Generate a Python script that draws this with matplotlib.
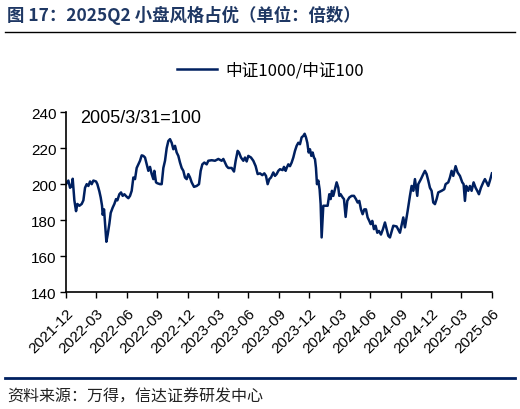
import matplotlib
matplotlib.use("Agg")
from matplotlib import pyplot as plt
import pandas as pd

# 中证1000/中证100 (2005/3/31=100)
dates = [
    "2021-12-01", "2021-12-08", "2021-12-13", "2021-12-18", "2021-12-21", "2021-12-23",
    "2021-12-26", "2021-12-31", "2022-01-04", "2022-01-10", "2022-01-17", "2022-01-22",
    "2022-01-27", "2022-02-01", "2022-02-06", "2022-02-11", "2022-02-16", "2022-02-21",
    "2022-03-01", "2022-03-05", "2022-03-11", "2022-03-15", "2022-03-19", "2022-03-21",
    "2022-03-25", "2022-03-28", "2022-04-01", "2022-04-05", "2022-04-10", "2022-04-14",
    "2022-04-20", "2022-04-25", "2022-04-30", "2022-05-04", "2022-05-10", "2022-05-15",
    "2022-05-20", "2022-05-25", "2022-06-01", "2022-06-06", "2022-06-11", "2022-06-16",
    "2022-06-21", "2022-06-26", "2022-07-01", "2022-07-06", "2022-07-11", "2022-07-16",
    "2022-07-21", "2022-07-26", "2022-07-31", "2022-08-05", "2022-08-10", "2022-08-15",
    "2022-08-20", "2022-08-23", "2022-08-28", "2022-09-01", "2022-09-09", "2022-09-14",
    "2022-09-19", "2022-09-24", "2022-09-29", "2022-10-04", "2022-10-09", "2022-10-14",
    "2022-10-19", "2022-10-24", "2022-10-29", "2022-11-03", "2022-11-08", "2022-11-13",
    "2022-11-18", "2022-11-23", "2022-11-28", "2022-12-03", "2022-12-08", "2022-12-13",
    "2022-12-20", "2022-12-28", "2023-01-04", "2023-01-09", "2023-01-14", "2023-01-20",
    "2023-01-27", "2023-02-01", "2023-02-11", "2023-02-21", "2023-03-03", "2023-03-13",
    "2023-03-18", "2023-03-23", "2023-03-28", "2023-04-02", "2023-04-12", "2023-04-19",
    "2023-04-24", "2023-04-30", "2023-05-04", "2023-05-10", "2023-05-17", "2023-05-22",
    "2023-05-27", "2023-06-01", "2023-06-09", "2023-06-16", "2023-06-23", "2023-06-29",
    "2023-07-06", "2023-07-13", "2023-07-19", "2023-07-24", "2023-07-29", "2023-08-03",
    "2023-08-08", "2023-08-15", "2023-08-20", "2023-08-25", "2023-08-30", "2023-09-04",
    "2023-09-12", "2023-09-16", "2023-09-21", "2023-09-24", "2023-09-29", "2023-10-04",
    "2023-10-09", "2023-10-14", "2023-10-19", "2023-10-24", "2023-10-29", "2023-11-03",
    "2023-11-08", "2023-11-13", "2023-11-17", "2023-11-21", "2023-11-25", "2023-11-29",
    "2023-12-03", "2023-12-07", "2023-12-11", "2023-12-15", "2023-12-18", "2023-12-21",
    "2023-12-24", "2023-12-28", "2024-01-01", "2024-01-04", "2024-01-07", "2024-01-10",
    "2024-01-12", "2024-01-20", "2024-01-25", "2024-01-30", "2024-02-03", "2024-02-07",
    "2024-02-11", "2024-02-16", "2024-02-21", "2024-02-26", "2024-02-29", "2024-03-04",
    "2024-03-10", "2024-03-14", "2024-03-19", "2024-03-24", "2024-03-30", "2024-04-06",
    "2024-04-13", "2024-04-19", "2024-04-24", "2024-04-29", "2024-05-04", "2024-05-09",
    "2024-05-14", "2024-05-19", "2024-05-24", "2024-05-29", "2024-06-02", "2024-06-07",
    "2024-06-12", "2024-06-17", "2024-06-22", "2024-06-27", "2024-07-03", "2024-07-09",
    "2024-07-15", "2024-07-25", "2024-07-30", "2024-08-09", "2024-08-19", "2024-08-29",
    "2024-09-08", "2024-09-13", "2024-09-21", "2024-09-28", "2024-10-03", "2024-10-08",
    "2024-10-13", "2024-10-20", "2024-10-23", "2024-10-31", "2024-11-07", "2024-11-12",
    "2024-11-17", "2024-11-22", "2024-11-27", "2024-12-02", "2024-12-07", "2024-12-12",
    "2024-12-17", "2024-12-22", "2025-01-01", "2025-01-09", "2025-01-13", "2025-01-21",
    "2025-01-26", "2025-01-31", "2025-02-05", "2025-02-12", "2025-02-18", "2025-02-25",
    "2025-03-04", "2025-03-08", "2025-03-12", "2025-03-16", "2025-03-22", "2025-03-27",
    "2025-04-01", "2025-04-07", "2025-04-13", "2025-04-18", "2025-04-23", "2025-04-29",
    "2025-05-06", "2025-05-11", "2025-05-16", "2025-05-21", "2025-05-26", "2025-06-01",
]
ratio = [
    200, 202, 198, 199, 203, 198,
    191, 185, 189, 188, 189, 191,
    198, 200, 199, 201.5, 200, 202,
    201.5, 200, 196, 192.6, 188, 183,
    186, 178, 168, 172, 178, 184,
    187, 189, 191.7, 191, 194.4, 195.4,
    193.5, 194.4, 193, 192.2, 193.5, 196.3,
    203.7, 202.8, 209, 211, 213, 216,
    215.7, 214.8, 211, 207.4, 209.6, 205.6,
    202.8, 207.4, 201, 200.5, 200, 200,
    209, 213, 220, 224, 225, 223,
    219.4, 221.3, 217.6, 215.7, 212, 209,
    207.4, 203.7, 202.8, 205.6, 203.7, 201,
    198.5, 199, 200, 207.4, 211, 212,
    211, 213, 213.3, 213, 214, 213,
    214, 212, 210, 209, 209, 207,
    213, 218.5, 217.6, 214.8, 213, 214.8,
    212.6, 215.7, 214.8, 213, 210, 205.6,
    206, 205, 206, 204.6, 200, 202.8,
    203.7, 206.5, 204.6, 205.6, 207.4, 208.3,
    207.8, 209.6, 207.4, 209, 211, 210,
    212, 214.8, 218.5, 221.3, 223, 222.2,
    226, 226.8, 228, 226, 223, 217.6,
    219.4, 215.7, 217.6, 214.8, 213.9, 209,
    200, 202, 197, 189, 170.4, 181.5,
    188, 188, 188, 194.4, 191.7, 196.3,
    193.5, 197.2, 201, 198, 193.5, 194.4,
    192.6, 191.7, 181.8, 190.7, 192.6, 193.5,
    193.5, 191.7, 189.8, 190.7, 186, 183.3,
    186, 186, 181.5, 179.6, 177.8, 179.6,
    175, 176.9, 173, 174, 172, 175,
    178.7, 171.3, 170.4, 176.9, 176.5, 173,
    181.5, 176, 185, 193.5, 199, 196.3,
    202.8, 193.5, 200, 202.8, 205.6, 207.4,
    205.6, 202, 198, 196.3, 189.8, 188.9,
    191.7, 195.4, 196.3, 197.2, 200, 201,
    203.7, 207.4, 204.6, 210, 206.5, 204.6,
    201, 200, 190.7, 199, 196.3, 199,
    196.3, 201, 198, 196.3, 194.4, 198,
    201, 202.8, 201, 199, 202, 206,
]
tick_months = pd.date_range("2021-12-01", "2025-06-01", freq="3MS")
tick_labels = [d.strftime("%Y-%m") for d in tick_months]

title = "图 17：2025Q2 小盘风格占优（单位：倍数）"
series_name = "中证1000/中证100"
base_note = "2005/3/31=100"
source = "资料来源：万得，信达证券研发中心"

cjk = ["Noto Sans CJK SC", "DejaVu Sans"]
latin = ["Liberation Sans", "DejaVu Sans"]
navy = "#002060"

fig = plt.figure(figsize=(5.2, 4.1), dpi=100)
ax = fig.add_axes([0.127, 0.285, 0.819, 0.439])

x = pd.to_datetime(dates)
ax.plot(x, ratio, color=navy, linewidth=1.8, label=series_name)

ax.set_xlim(pd.Timestamp("2021-12-01"), pd.Timestamp("2025-06-01"))
ax.set_ylim(140, 240)
ax.set_yticks(range(140, 241, 20))
ax.set_xticks(tick_months)
ax.set_xticklabels(tick_labels, rotation=45, ha="right", rotation_mode="anchor",
                   family=latin, fontsize=11)
for lab in ax.get_yticklabels():
    lab.set_family(latin)
    lab.set_fontsize(11)
ax.tick_params(axis="both", direction="out", length=4, width=1, color="black")
ax.tick_params(axis="y", pad=3)
ax.tick_params(axis="x", pad=6)
for side in ["top", "right"]:
    ax.spines[side].set_visible(False)
for side in ["left", "bottom"]:
    ax.spines[side].set_linewidth(1.2)

ax.text(0.033, 0.97, base_note, transform=ax.transAxes, family=latin,
        fontsize=13, va="center", ha="left")

leg = fig.legend(loc="center", bbox_to_anchor=(0.52, 0.826), frameon=False,
                 prop={"family": cjk, "size": 12}, handlelength=2.4,
                 handletextpad=0.5)

fig.text(0.013, 0.962, title, family=cjk, fontsize=12.5, fontweight="bold",
         color="#1F3864", va="center", ha="left")
fig.add_artist(plt.Line2D([0.01, 0.99], [0.919, 0.919], color="black", linewidth=1))
fig.add_artist(plt.Line2D([0.01, 0.99], [0.075, 0.075], color=navy, linewidth=2))
fig.text(0.013, 0.031, source, family=cjk, fontsize=11.5, style="italic",
         color="#222222", va="center", ha="left")

fig.savefig("out.png", dpi=100)
